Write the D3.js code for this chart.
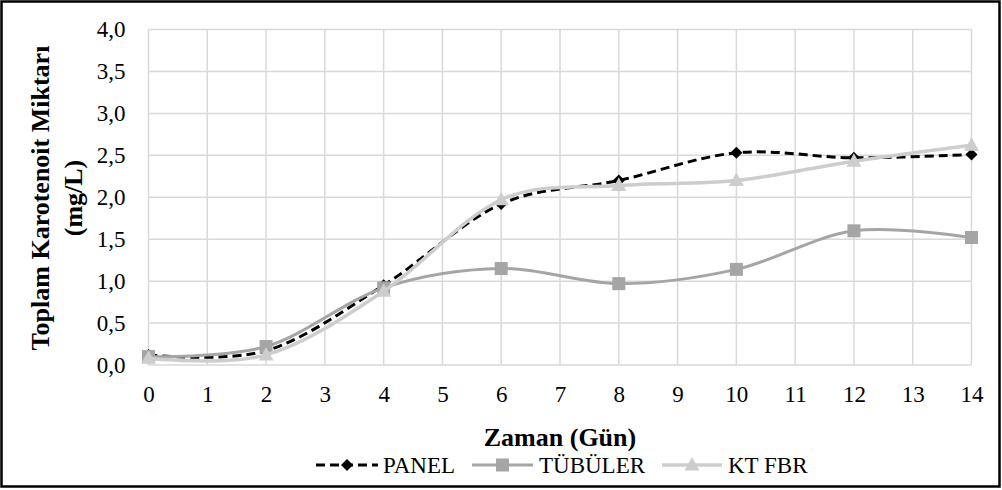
<!DOCTYPE html>
<html>
<head>
<meta charset="utf-8">
<script src="https://cdn.jsdelivr.net/npm/d3@7/dist/d3.min.js"></script>
<style>
  html, body { margin: 0; padding: 0; background: #fff; }
  svg { display: block; }
</style>
</head>
<body>
<svg id="chart" width="1002" height="490"></svg>
<script>
// Days of sampling
const days = [0, 2, 4, 6, 8, 10, 12, 14];
// Total carotenoid (mg/L) per reactor
const panel   = [0.12, 0.17, 0.95, 1.92, 2.20, 2.53, 2.47, 2.51];
const tubuler = [0.10, 0.22, 0.92, 1.15, 0.97, 1.14, 1.60, 1.52];
const ktfbr   = [0.08, 0.12, 0.88, 1.97, 2.14, 2.20, 2.43, 2.62];
const seriesNames = ["PANEL", "TÜBÜLER", "KT FBR"];
const xTicks = d3.range(0, 15, 1);
const yTicks = [0, 0.5, 1, 1.5, 2, 2.5, 3, 3.5, 4];

const series = [
  { name: seriesNames[0], values: panel,   color: "#000000", width: 3,   dash: "9,5", marker: "diamond" },
  { name: seriesNames[1], values: tubuler, color: "#a5a5a5", width: 3,   dash: null,  marker: "square" },
  { name: seriesNames[2], values: ktfbr,   color: "#cdcdcd", width: 3.5, dash: null,  marker: "triangle" }
];

const FONT = "Liberation Serif";
const svg = d3.select("#chart");
const W = 1002, H = 490;
const plotLeft = 148.5, plotRight = 971.5, plotTop = 29.5, plotBottom = 365;
const tickFont = 23, titleFont = 26, legendFont = 23;

// Outer frame
svg.append("rect").attr("x", 1.5).attr("y", 1.5).attr("width", W - 4).attr("height", H - 5)
  .attr("fill", "#fff").attr("stroke", "#000").attr("stroke-width", 2.5);

const x = d3.scaleLinear().domain([0, 14]).range([plotLeft, plotRight]);
const y = d3.scaleLinear().domain([0, 4]).range([plotBottom, plotTop]);

// Grid
const grid = svg.append("g");
grid.selectAll("line.v").data(xTicks).join("line")
  .attr("x1", d => x(d)).attr("x2", d => x(d)).attr("y1", y(4)).attr("y2", y(0))
  .attr("stroke", "#d9d9d9").attr("stroke-width", 1.5);
grid.selectAll("line.h").data(yTicks).join("line")
  .attr("x1", x(0)).attr("x2", x(14)).attr("y1", d => y(d)).attr("y2", d => y(d))
  .attr("stroke", "#d9d9d9").attr("stroke-width", 1.5);

// Axes (labels only, lines hidden)
const fmt = d => d.toFixed(1).replace(".", ",");
const yAxis = svg.append("g").attr("transform", `translate(${plotLeft - 10},0)`)
  .call(d3.axisLeft(y).tickValues(yTicks).tickFormat(fmt).tickSize(0).tickPadding(13));
const xAxis = svg.append("g").attr("transform", `translate(0,${plotBottom + 10})`)
  .call(d3.axisBottom(x).tickValues(xTicks).tickFormat(d3.format("d")).tickSize(0).tickPadding(11));
[yAxis, xAxis].forEach(a => {
  a.attr("font-family", FONT).attr("font-size", tickFont);
  a.select(".domain").remove();
  a.selectAll("text").attr("font-family", FONT).attr("font-size", tickFont).attr("fill", "#000");
});

// Axis titles
svg.append("text").attr("x", 560).attr("y", 446).attr("text-anchor", "middle")
  .attr("font-family", FONT).attr("font-size", titleFont).attr("font-weight", "bold").text("Zaman (Gün)");
const yt = svg.append("text").attr("transform", "translate(49,198) rotate(-90)")
  .attr("text-anchor", "middle").attr("font-family", FONT).attr("font-size", titleFont).attr("font-weight", "bold");
yt.append("tspan").attr("x", 0).attr("dy", 0).text("Toplam Karotenoit Miktarı");
yt.append("tspan").attr("x", 0).attr("dy", 33).text("(mg/L)");

// Markers
function drawMarker(g, type, cx, cy, color) {
  if (type === "diamond") {
    g.append("path").attr("d", `M${cx},${cy - 6}L${cx + 6},${cy}L${cx},${cy + 6}L${cx - 6},${cy}Z`).attr("fill", color);
  } else if (type === "square") {
    g.append("rect").attr("x", cx - 6.5).attr("y", cy - 6.5).attr("width", 13).attr("height", 13).attr("fill", color);
  } else {
    g.append("path").attr("d", `M${cx},${cy - 8}L${cx + 7.5},${cy + 5.5}L${cx - 7.5},${cy + 5.5}Z`).attr("fill", color);
  }
}

const line = d3.line().curve(d3.curveCardinal.tension(0)).x(d => x(d[0])).y(d => y(d[1]));
series.forEach(s => {
  const g = svg.append("g");
  const pts = days.map((d, i) => [d, s.values[i]]);
  g.append("path").datum(pts).attr("d", line).attr("fill", "none")
    .attr("stroke", s.color).attr("stroke-width", s.width)
    .attr("stroke-dasharray", s.dash).attr("stroke-linecap", s.dash ? "butt" : "round");
  pts.forEach(p => drawMarker(g, s.marker, x(p[0]), y(p[1]), s.color));
});

// Legend
const legend = [
  { x0: 316, x1: 378, tx: 383 },
  { x0: 472, x1: 533, tx: 539 },
  { x0: 662, x1: 722, tx: 728 }
];
const ly = 465;
series.forEach((s, i) => {
  const L = legend[i];
  const g = svg.append("g");
  g.append("line").attr("x1", L.x0).attr("x2", L.x1).attr("y1", ly).attr("y2", ly)
    .attr("stroke", s.color).attr("stroke-width", s.width).attr("stroke-dasharray", s.dash);
  drawMarker(g, s.marker, (L.x0 + L.x1) / 2, ly, s.color);
  g.append("text").attr("x", L.tx).attr("y", ly + 8).attr("font-family", FONT)
    .attr("font-size", legendFont).attr("fill", "#000").text(s.name);
});
</script>
</body>
</html>
